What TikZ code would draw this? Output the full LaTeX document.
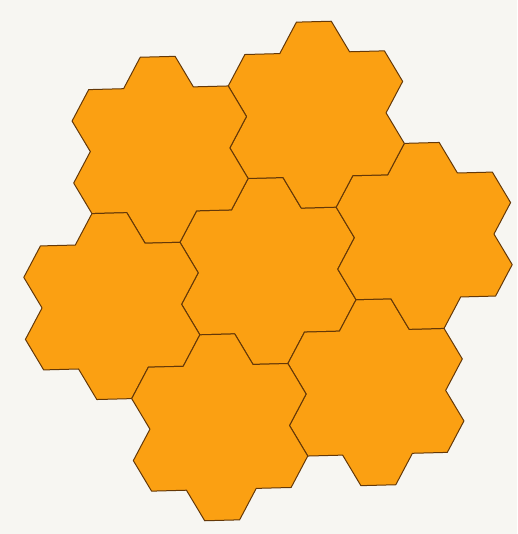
\documentclass[tikz,border=0pt]{standalone}
\usepackage{tikz}

\definecolor{paper}{RGB}{247,246,242}
\definecolor{tilefill}{RGB}{251,160,18}
\definecolor{tileedge}{RGB}{100,56,8}

\tikzset{
    tile/.style={draw=tileedge, fill=tilefill, line width=1pt, line join=round}
}

\begin{document}
\begin{tikzpicture}[x=1pt,y=1pt]
    \fill[paper] (0,0) rectangle (517,534);
    \useasboundingbox (0,0) rectangle (517,534);

    % seven tiles: one in the middle, six round it
    \begin{scope}[shift={(268,263)}, x=34.9pt, y=35.8pt, rotate=1.5]
    \foreach \cx/\cy in {0/0, 3/-3.464, 4.5/0.866, 1.5/4.330, -3/3.464, -4.5/-0.866, -1.5/-4.330}
        \draw[tile] (\cx,\cy) ++(-0.5,2.598)
            \foreach \t in {0,-60,-120,-180,-240,-300} { -- ++(\t:1) -- ++(\t-60:1) -- ++(\t:1) }
            -- cycle;
    \end{scope}

\end{tikzpicture}
\end{document}
